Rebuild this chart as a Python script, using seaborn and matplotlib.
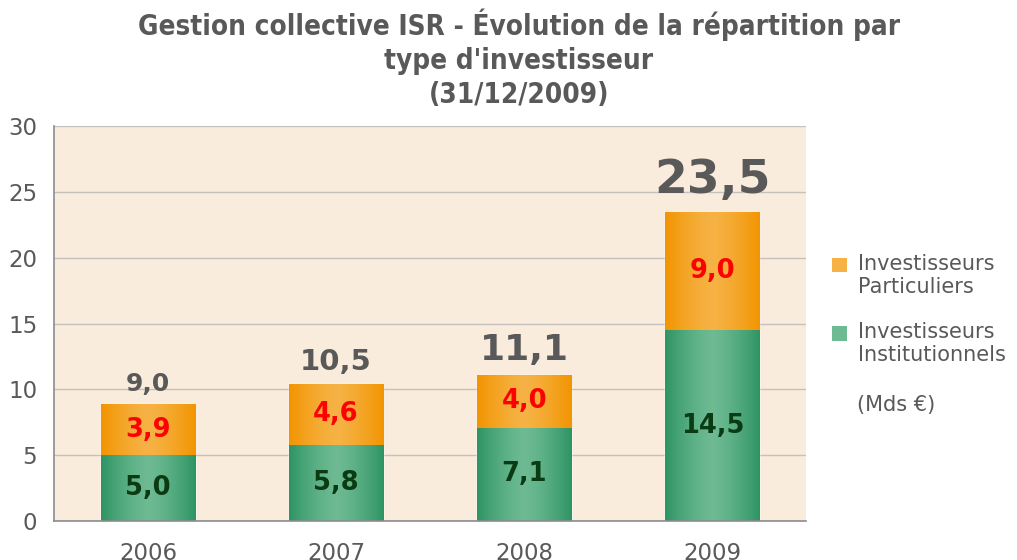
import numpy as np
import pandas as pd
import seaborn as sns
import matplotlib.pyplot as plt
from matplotlib.patches import Patch
from matplotlib.colors import to_rgb

years = ['2006', '2007', '2008', '2009']
institutionnels = [5.0, 5.8, 7.1, 14.5]
particuliers = [3.9, 4.6, 4.0, 9.0]
totaux = [9.0, 10.5, 11.1, 23.5]
total_sizes = [18, 21, 26, 34]

grey = '#595959'
green_edge, green_mid = '#2E9463', '#6DBA93'
orange_edge, orange_mid = '#F29400', '#F6B244'

df = pd.DataFrame({'annee': years, 'inst': institutionnels, 'part': particuliers})
df['cumul'] = df['inst'] + df['part']

sns.set_style('white')
plt.rcParams['font.family'] = ['DejaVu Sans']

fig = plt.figure(figsize=(10.17, 5.6), dpi=100)
ax = fig.add_axes([0.053, 0.0696, 0.740, 0.705])
ax.set_facecolor('#FAECDC')

sns.barplot(data=df, x='annee', y='cumul', color=orange_edge, width=0.5, ax=ax, saturation=1)
sns.barplot(data=df, x='annee', y='inst', color=green_edge, width=0.5, ax=ax, saturation=1)


def gradient(edge, mid):
    t = np.linspace(0, 1, 256)
    w = 1 - np.abs(2 * t - 1) ** 1.4
    e, m = np.array(to_rgb(edge)), np.array(to_rgb(mid))
    return (e[None, :] * (1 - w[:, None]) + m[None, :] * w[:, None])[None, :, :]


grad_o = gradient(orange_edge, orange_mid)
grad_g = gradient(green_edge, green_mid)
for i, p in enumerate(ax.patches):
    x, y, w, h = p.get_x(), p.get_y(), p.get_width(), p.get_height()
    img = ax.imshow(grad_o if i < 4 else grad_g, extent=[x, x + w, y, y + h],
                    aspect='auto', zorder=p.get_zorder() + 0.1 + (0.1 if i >= 4 else 0))
    img.set_clip_path(p)

ax.set_xlim(-0.5, 3.5)
ax.set_ylim(0, 30)
ax.set_yticks(range(0, 31, 5))
ax.grid(axis='y', color='#C4C0BC', lw=1)
ax.grid(axis='x', visible=False)
ax.set_axisbelow(True)

ax.set_xticks(np.arange(-0.5, 4, 1), minor=True)
ax.tick_params(axis='x', which='major', length=0, pad=15, labelsize=16.5, labelcolor=grey)
ax.tick_params(axis='x', which='minor', length=6, color='#8C8C8C', direction='out')
ax.tick_params(axis='y', length=5, color='#8C8C8C', direction='out', labelsize=16.5, labelcolor=grey, pad=7)
ax.set_xlabel('')
ax.set_ylabel('')

fmt = lambda v: f'{v:.1f}'.replace('.', ',')
for i in range(len(years)):
    ax.text(i, institutionnels[i] / 2, fmt(institutionnels[i]), ha='center', va='center',
            fontsize=18.5, fontweight='bold', color='#0B3B12', zorder=5)
    ax.text(i, institutionnels[i] + particuliers[i] / 2, fmt(particuliers[i]), ha='center', va='center',
            fontsize=18.5, fontweight='bold', color='#FF0000', zorder=5)
    ax.annotate(fmt(totaux[i]), (i, institutionnels[i] + particuliers[i]), xytext=(0, 6),
                textcoords='offset points', ha='center', va='bottom',
                fontsize=total_sizes[i], fontweight='bold', color=grey, zorder=5)

handles = [Patch(facecolor=orange_mid, edgecolor='none'), Patch(facecolor=green_mid, edgecolor='none')]
leg = fig.legend(handles, ['Investisseurs\nParticuliers', 'Investisseurs\nInstitutionnels'],
                 loc='upper left', bbox_to_anchor=(0.8, 0.58), frameon=False,
                 fontsize=15, handlelength=0.7, handleheight=0.7, handletextpad=0.55,
                 labelspacing=1.2, labelcolor=grey)
for h in leg.legend_handles:
    h.set_y(h.get_y() + 8)
fig.text(0.843, 0.276, '(Mds €)', fontsize=15, color=grey, va='center')

fig.text(0.51, 0.985, "Gestion collective ISR - Évolution de la répartition par\ntype d'investisseur\n(31/12/2009)",
         ha='center', va='top', fontsize=20, fontweight='bold', color=grey,
         fontstretch='condensed', linespacing=1.28)

for s in ['top', 'right']:
    ax.spines[s].set_visible(False)
for s in ['left', 'bottom']:
    ax.spines[s].set_visible(True)
    ax.spines[s].set_color('#8C8C8C')
    ax.spines[s].set_linewidth(1.2)

fig.savefig('out.png', dpi=100)
